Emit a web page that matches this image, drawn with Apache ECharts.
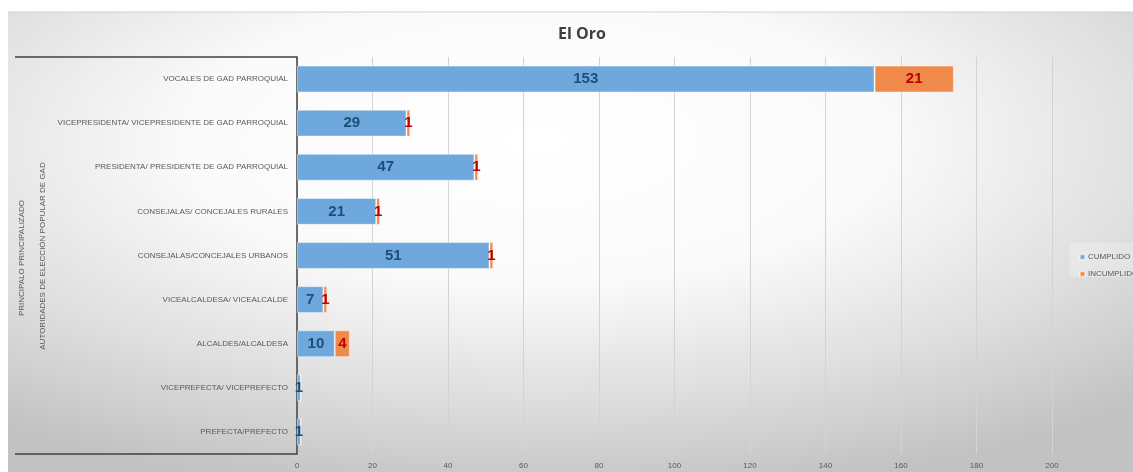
<!DOCTYPE html>
<html>
<head>
<meta charset="utf-8">
<script src="https://cdn.jsdelivr.net/npm/echarts@6/dist/echarts.min.js"></script>
<style>
html,body{margin:0;padding:0;background:#fff;}
#c{width:1133px;height:472px;}
</style>
</head>
<body>
<div id="c"></div>
<script>
// ---- data ----
var categories = [
  'PREFECTA/PREFECTO',
  'VICEPREFECTA/ VICEPREFECTO',
  'ALCALDES/ALCALDESA',
  'VICEALCALDESA/ VICEALCALDE',
  'CONSEJALAS/CONCEJALES URBANOS',
  'CONSEJALAS/ CONCEJALES RURALES',
  'PRESIDENTA/ PRESIDENTE DE GAD PARROQUIAL',
  'VICEPRESIDENTA/ VICEPRESIDENTE DE GAD PARROQUIAL',
  'VOCALES DE GAD PARROQUIAL'
];
var cumplido   = [1, 1, 10, 7, 51, 21, 47, 29, 153];
var incumplido = [0, 0, 4, 1, 1, 1, 1, 1, 21];
var seriesNames = ['CUMPLIDO', 'INCUMPLIDO'];
var xTicks = [0, 20, 40, 60, 80, 100, 120, 140, 160, 180, 200];
var titleText = 'El Oro';
var axisTitleOuter = 'PRINCIPALO PRINCIPALIZADO';
var axisTitleInner = 'AUTORIDADES DE ELECCIÓN POPULAR DE GAD';

var chart = echarts.init(document.getElementById('c'), null, {renderer: 'canvas'});
var W = 1125, H = 460;
var nameStyle = {fontFamily: 'Liberation Sans', fontSize: 8, fill: '#595959', align: 'center', verticalAlign: 'middle'};
var option = {
  animation: false,
  title: {
    text: titleText,
    left: 553, top: 21,
    textStyle: {fontFamily: 'Open Sans', fontWeight: 'bold', fontSize: 16, color: '#404040'}
  },
  graphic: [
    {
      type: 'rect', silent: true, z: -10,
      x: 8, y: 12, scaleX: W / H, scaleY: 1,
      shape: {x: 0, y: 0, width: H, height: H},
      style: {
        lineWidth: 0,
        fill: new echarts.graphic.RadialGradient(0.47, 0.28, 0.78, [
          {offset: 0, color: '#ffffff'},
          {offset: 0.4, color: '#fafafa'},
          {offset: 0.72, color: '#dedede'},
          {offset: 1, color: '#c2c2c2'}
        ])
      }
    },
    {type: 'line', silent: true, z: -9, shape: {x1: 8, y1: 12, x2: 1133, y2: 12}, style: {stroke: '#d0d0d0', lineWidth: 1}},
    {type: 'polyline', silent: true, shape: {points: [[15, 57], [297, 57]]}, style: {stroke: '#404040', lineWidth: 1.5, fill: null}},
    {type: 'polyline', silent: true, shape: {points: [[15, 454], [297, 454]]}, style: {stroke: '#404040', lineWidth: 1.5, fill: null}},
    {type: 'rect', silent: true, z: -5, shape: {x: 1070, y: 243, width: 63, height: 34}, style: {fill: 'rgba(255,255,255,0.25)'}},
    {type: 'text', silent: true, x: 22, y: 258, rotation: Math.PI / 2,
      style: Object.assign({text: axisTitleOuter}, nameStyle)},
    {type: 'text', silent: true, x: 43, y: 256, rotation: Math.PI / 2,
      style: Object.assign({text: axisTitleInner}, nameStyle)}
  ],
  legend: {
    orient: 'vertical',
    left: 1074, top: 248,
    itemWidth: 5, itemHeight: 5, itemGap: 9,
    icon: 'rect',
    textStyle: {fontFamily: 'Liberation Sans', fontSize: 8, color: '#595959', padding: [0,0,0,-2]},
    data: seriesNames
  },
  grid: {left: 297, right: 81, top: 57, bottom: 18, containLabel: false, outerBoundsMode: 'none'},
  xAxis: {
    type: 'value', min: 0, max: 200, interval: 20,
    axisLine: {show: false}, axisTick: {show: false},
    splitLine: {show: true, lineStyle: {color: '#d3d3d3', width: 1}},
    axisLabel: {
      fontFamily: 'Liberation Sans', fontSize: 8, color: '#595959', margin: 8,
      formatter: function (v) { return xTicks.indexOf(v) >= 0 ? String(v) : ''; }
    }
  },
  yAxis: {
    type: 'category', data: categories,
    axisLine: {show: true, lineStyle: {color: '#404040', width: 1.5}},
    axisTick: {show: false},
    axisLabel: {fontFamily: 'Liberation Sans', fontSize: 8, color: '#595959', margin: 9}
  },
  series: [
    {
      name: seriesNames[0], type: 'bar', stack: 'total', barWidth: '61%',
      data: cumplido,
      itemStyle: {color: '#6FA8DC', borderColor: 'rgba(255,255,255,0.45)', borderWidth: 1},
      label: {
        show: true, position: 'inside',
        fontFamily: 'Liberation Sans', fontWeight: 'bold', fontSize: 15, color: '#1F4E79',
        formatter: function (p) { return p.value ? String(p.value) : ''; }
      }
    },
    {
      name: seriesNames[1], type: 'bar', stack: 'total', barWidth: '61%',
      data: incumplido,
      itemStyle: {color: '#F08A4B', borderColor: 'rgba(255,255,255,0.45)', borderWidth: 1},
      label: {
        show: true, position: 'inside',
        fontFamily: 'Liberation Sans', fontWeight: 'bold', fontSize: 15, color: '#C00000',
        formatter: function (p) { return p.value ? String(p.value) : ''; }
      }
    }
  ]
};
chart.setOption(option);
</script>
</body>
</html>
